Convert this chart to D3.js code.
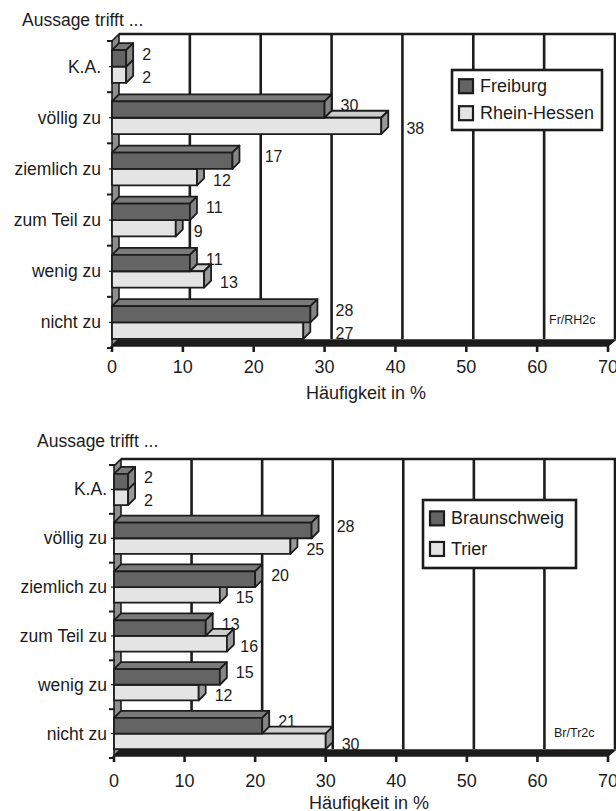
<!DOCTYPE html>
<html>
<head>
<meta charset="utf-8">
<script src="https://cdn.jsdelivr.net/npm/d3@7"></script>
<style>
  html, body { margin: 0; padding: 0; background: #fff; }
  svg { display: block; font-family: "Liberation Sans", Arial, Helvetica, sans-serif; }
</style>
</head>
<body>
<svg id="chart" width="616" height="811"></svg>
<script>
// ---- data ----
const categories = ["K.A.", "völlig zu", "ziemlich zu", "zum Teil zu", "wenig zu", "nicht zu"];

const seriesTop = ["Freiburg", "Rhein-Hessen"];
const freiburg = [2, 30, 17, 11, 11, 28];
const rheinHessen = [2, 38, 12, 9, 13, 27];

const seriesBottom = ["Braunschweig", "Trier"];
const braunschweig = [2, 28, 20, 13, 15, 21];
const trier = [2, 25, 15, 16, 12, 30];

const xTicks = [0, 10, 20, 30, 40, 50, 60, 70];
const valueTitle = "Häufigkeit in %";
const categoryTitle = "Aussage trifft ...";
const sourceCodes = ["Fr/RH2c", "Br/Tr2c"];

// ---- styling ----
const DEPTH = 7;
const ink = "#1c1c1c";
const faces = [
  { front: "#646464", top: "#7a7a7a", side: "#858585" },   // first series (dark)
  { front: "#e4e4e4", top: "#cdcdcd", side: "#9a9a9a" }    // second series (light)
];

const svg = d3.select("#chart");

function drawPanel(cfg) {
  const d = DEPTH;
  const x = d3.scaleLinear().domain([0, 70]).range([cfg.x0, cfg.x1]);
  const y = d3.scalePoint().domain(categories).range(cfg.band).padding(0.5);
  const step = y.step();
  const barH = step * 0.32;
  const top = cfg.frontTop, floor = cfg.floorY;
  const xa = x(0), xb = x(70);
  const g = svg.append("g");

  // back wall with value gridlines
  g.append("rect")
    .attr("x", xa + d).attr("y", top - d)
    .attr("width", xb - xa).attr("height", floor - top)
    .attr("fill", "#fff");
  const gridX = xTicks.filter(t => t > 0).map(t => x(t) + d);
  g.selectAll("line.grid").data(gridX).join("line")
    .attr("class", "grid")
    .attr("x1", gx => gx).attr("x2", gx => gx)
    .attr("y1", top - d).attr("y2", floor - d)
    .attr("stroke", ink).attr("stroke-width", 2.6);
  g.append("line")
    .attr("x1", xa + d).attr("x2", xb + d + 1.3)
    .attr("y1", top - d).attr("y2", top - d)
    .attr("stroke", ink).attr("stroke-width", 2.6);

  // side wall on the left
  g.append("path")
    .attr("d", `M${xa},${floor}L${xa},${top}L${xa + d},${top - d}L${xa + d},${floor - d}Z`)
    .attr("fill", "#8e8e8e").attr("stroke", ink).attr("stroke-width", 1.6)
    .attr("stroke-linejoin", "round");

  // floor
  g.append("path")
    .attr("d", `M${xa},${floor}L${xa + d},${floor - d + 1}L${xb + d},${floor - d + 1}L${xb},${floor}Z`)
    .attr("fill", ink).attr("stroke", ink).attr("stroke-width", 1.5);

  // category ticks on the side wall edge
  const bounds = categories.map(c => y(c) - step / 2).concat([y(categories[categories.length - 1]) + step / 2]);
  g.selectAll("line.cb").data(bounds).join("line")
    .attr("class", "cb")
    .attr("x1", xa - 5).attr("x2", xa + 1)
    .attr("y1", v => v).attr("y2", v => v)
    .attr("stroke", ink).attr("stroke-width", 2);
  g.selectAll("line.cc").data(categories).join("line")
    .attr("class", "cc")
    .attr("x1", xa - 3).attr("x2", xa)
    .attr("y1", c => y(c)).attr("y2", c => y(c))
    .attr("stroke", ink).attr("stroke-width", 1.2);

  // 3D bars, drawn back-to-front (lowest category first, lower bar of each pair first)
  const bars = [];
  categories.forEach((c, i) => {
    cfg.values.forEach((vals, s) => {
      const yT = s === 0 ? y(c) - barH : y(c);
      bars.push({ c, i, s, v: vals[i], yT, yB: yT + barH });
    });
  });
  bars.sort((a, b) => (b.i - a.i) || (b.s - a.s));

  const bg = g.append("g").attr("stroke", ink).attr("stroke-width", 1.8).attr("stroke-linejoin", "round");
  bars.forEach(b => {
    const x0 = x(0), x1 = x(b.v);
    const f = faces[b.s];
    bg.append("path")
      .attr("d", `M${x0},${b.yT}L${x1},${b.yT}L${x1 + d},${b.yT - d}L${x0 + d},${b.yT - d}Z`)
      .attr("fill", f.top);
    bg.append("rect")
      .attr("x", x0).attr("y", b.yT).attr("width", x1 - x0).attr("height", b.yB - b.yT)
      .attr("fill", f.front);
    bg.append("path")
      .attr("d", `M${x1},${b.yT}L${x1 + d},${b.yT - d}L${x1 + d},${b.yB - d}L${x1},${b.yB}Z`)
      .attr("fill", f.side);
  });

  // value labels: right of the bar; a label that would sit on a gridline is moved
  // just before it if there is room, otherwise just past it
  g.selectAll("text.val").data(bars).join("text")
    .attr("class", "val")
    .attr("y", b => (b.yT + b.yB) / 2 + (b.s === 0 ? -4 : 3))
    .attr("dominant-baseline", "central")
    .attr("font-size", 16).attr("fill", ink)
    .text(b => b.v)
    .attr("x", function (b) {
      const barEnd = x(b.v) + d;
      let left = barEnd + 9;
      const w = this.getComputedTextLength();
      const hit = gridX.find(gx => gx >= left - 2 && gx <= left + w + 2);
      if (hit !== undefined) {
        const before = hit - 4 - w;
        left = before >= barEnd + 2 ? before : hit + 4;
      }
      return left;
    });

  // category labels
  g.selectAll("text.cat").data(categories).join("text")
    .attr("class", "cat")
    .attr("x", cfg.labelEnd).attr("y", c => y(c))
    .attr("text-anchor", "end").attr("dominant-baseline", "central")
    .attr("font-size", 17.5).attr("fill", ink)
    .text(c => c);

  // value axis ticks and labels
  g.selectAll("line.xt").data(xTicks).join("line")
    .attr("class", "xt")
    .attr("x1", t => x(t)).attr("x2", t => x(t))
    .attr("y1", floor).attr("y2", floor + 6)
    .attr("stroke", ink).attr("stroke-width", 2.6);
  g.selectAll("text.xl").data(xTicks).join("text")
    .attr("class", "xl")
    .attr("x", t => x(t)).attr("y", cfg.tickY)
    .attr("text-anchor", "middle")
    .attr("font-size", 18).attr("fill", ink)
    .text(t => t);

  // titles
  g.append("text")
    .attr("x", cfg.axisTitleX).attr("y", cfg.axisTitleY)
    .attr("text-anchor", "middle").attr("font-size", 18).attr("fill", ink)
    .text(valueTitle);
  g.append("text")
    .attr("x", cfg.catTitleX).attr("y", cfg.catTitleY)
    .attr("font-size", 17.5).attr("fill", ink)
    .text(categoryTitle);
  g.append("text")
    .attr("x", cfg.codeX).attr("y", cfg.codeY)
    .attr("font-size", 12.5).attr("fill", ink)
    .text(cfg.code);

  // legend
  const L = cfg.legend;
  const lg = g.append("g");
  lg.append("rect")
    .attr("x", L.x).attr("y", L.y).attr("width", L.w).attr("height", L.h)
    .attr("fill", "#fff").attr("stroke", ink).attr("stroke-width", 2.6);
  cfg.series.forEach((name, s) => {
    const cy = L.y + L.h * (s === 0 ? 0.27 : 0.72);
    lg.append("rect")
      .attr("x", L.x + 7).attr("y", cy - 7).attr("width", 14).attr("height", 14)
      .attr("fill", faces[s].front).attr("stroke", ink).attr("stroke-width", 2.2);
    lg.append("text")
      .attr("x", L.x + L.tx).attr("y", cy)
      .attr("dominant-baseline", "central")
      .attr("font-size", 18).attr("fill", ink)
      .text(name);
  });
}

drawPanel({
  values: [freiburg, rheinHessen], series: seriesTop, code: sourceCodes[0],
  x0: 112, x1: 608, band: [41, 348], frontTop: 41, floorY: 346,
  labelEnd: 101, tickY: 373, axisTitleX: 366, axisTitleY: 399,
  catTitleX: 22, catTitleY: 26, codeX: 549, codeY: 324,
  legend: { x: 452, y: 70, w: 150, h: 60, tx: 28 }
});

drawPanel({
  values: [braunschweig, trier], series: seriesBottom, code: sourceCodes[1],
  x0: 114, x1: 608, band: [465, 758], frontTop: 466, floorY: 756,
  labelEnd: 107, tickY: 787, axisTitleX: 369, axisTitleY: 809,
  catTitleX: 37, catTitleY: 447, codeX: 554, codeY: 737,
  legend: { x: 423, y: 500, w: 153, h: 68, tx: 28 }
});
</script>
</body>
</html>
